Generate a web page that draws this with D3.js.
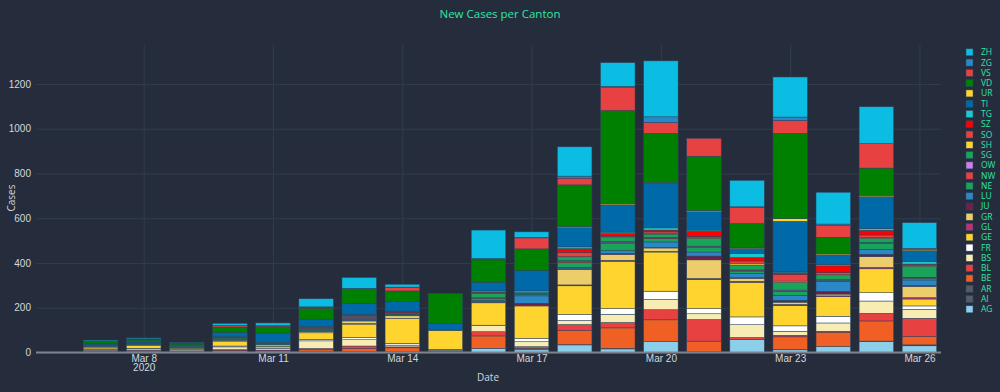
<!DOCTYPE html>
<html><head><meta charset="utf-8">
<script src="https://cdn.jsdelivr.net/npm/d3@7"></script>
<style>
html,body{margin:0;padding:0;background:#252d3d;}
svg{display:block;font-family:"Open Sans","DejaVu Sans",sans-serif;}
</style></head><body>
<svg id="chart" width="1000" height="392"></svg>
<script>
// ---- data (Mar 7 .. Mar 26, 2020) ----
const dates = ["2020-03-07","2020-03-08","2020-03-09","2020-03-10","2020-03-11","2020-03-12","2020-03-13","2020-03-14","2020-03-15","2020-03-16","2020-03-17","2020-03-18","2020-03-19","2020-03-20","2020-03-21","2020-03-22","2020-03-23","2020-03-24","2020-03-25","2020-03-26"];
// stacking order bottom -> top
const cantons = ["AG","AI","AR","BE","BL","BS","FR","GE","GL","GR","JU","LU","NE","NW","OW","SG","SH","SO","SZ","TG","TI","UR","VD","VS","ZG","ZH"];
const AG = [1,1,1,2,2,4,4,3,1,19,12,34,16,49,5,57,12,27,49,30];
const AI = [0,0,0,0,0,0,0,0,0,0,0,0,0,0,0,0,0,0,0,2];
const AR = [0,0,0,0,0,0,0,0,0,0,0,1,2,0,0,0,1,0,2,2];
const BE = [4,5,2,7,5,8,13,18,3,55,7,63,92,97,46,0,57,64,90,37];
const BL = [4,4,3,4,4,6,12,4,3,19,7,27,24,45,96,10,7,4,34,82];
const BS = [5,6,5,12,6,34,28,8,4,27,22,18,37,46,26,57,18,37,55,40];
const FR = [2,3,2,4,3,6,10,8,3,2,15,27,25,37,23,35,24,30,37,15];
const GE = [8,12,6,22,8,30,60,110,84,100,145,128,212,175,130,155,90,88,107,31];
const GL = [0,0,0,0,0,0,2,1,0,3,0,4,4,3,5,4,6,3,6,6];
const GR = [3,3,2,4,6,6,12,12,2,3,2,70,27,15,83,14,10,8,49,51];
const JU = [0,0,0,0,0,0,2,0,0,0,10,2,3,2,17,2,8,12,10,3];
const LU = [2,2,1,3,2,4,4,4,0,4,33,6,13,25,18,20,22,45,22,25];
const NE = [2,2,2,4,3,4,4,3,1,10,6,21,34,15,19,10,18,5,25,8];
const NW = [0,0,0,0,0,0,2,0,0,2,0,6,3,3,5,4,3,0,4,2];
const OW = [0,0,0,0,0,0,2,0,0,0,0,3,3,2,2,1,3,2,1,2];
const SG = [2,2,2,4,3,6,5,4,0,20,6,14,19,15,35,22,34,22,19,49];
const SH = [0,0,0,0,0,0,2,1,0,0,0,4,3,4,5,8,6,0,3,3];
const SO = [1,2,1,2,2,3,3,3,0,4,2,19,4,6,4,10,30,10,12,5];
const SZ = [0,1,0,1,1,2,2,3,0,2,0,17,10,8,22,15,8,30,21,2];
const TG = [1,1,2,3,2,3,2,3,0,5,8,8,7,10,6,19,5,6,8,12];
const TI = [6,8,5,18,40,33,49,42,30,39,91,86,122,200,82,22,224,42,142,48];
const UR = [0,0,0,0,0,0,0,0,0,0,0,4,6,3,5,3,12,5,6,6];
const VD = [8,7,8,24,28,49,64,48,133,100,97,187,415,219,243,108,381,75,122,0];
const VS = [1,1,1,6,4,4,3,15,0,3,49,30,105,49,80,72,58,52,109,4];
const ZG = [1,1,0,1,1,2,2,2,0,3,2,9,3,25,0,3,15,7,0,0];
const ZH = [4,4,2,9,12,36,48,13,0,127,25,131,106,250,0,118,179,142,165,115];
const seriesValues = {AG,AI,AR,BE,BL,BS,FR,GE,GL,GR,JU,LU,NE,NW,OW,SG,SH,SO,SZ,TG,TI,UR,VD,VS,ZG,ZH};
const colors = {ZH:"#0bbde3",ZG:"#2b88c8",VS:"#e84142",VD:"#008000",UR:"#ffd42f",TI:"#006aa8",TG:"#1ac9c9",SZ:"#ff0000",SO:"#e84142",SH:"#ffd42f",SG:"#19a45a",OW:"#c980e8",NW:"#e84142",NE:"#19a45a",LU:"#2b88c8",JU:"#6e1f4d",GR:"#edcd6b",GL:"#b73477",GE:"#ffd42f",FR:"#ffffff",BS:"#f8ecb5",BL:"#e84142",BE:"#f05f23",AR:"#555b67",AI:"#555b67",AG:"#8ccfeb"};
const yTicks = [0,200,400,600,800,1000,1200];
const xTickDates = ["2020-03-08","2020-03-11","2020-03-14","2020-03-17","2020-03-20","2020-03-23","2020-03-26"];

// ---- chart ----
const svg = d3.select("#chart");
const W = 1000, H = 392;
const mLeft = 36, mRight = 941, mTop = 45, mBottom = 352.5;
const parse = d3.utcParse("%Y-%m-%d");
const day = 864e5;
const x = d3.scaleUtc()
  .domain([new Date(parse("2020-03-05").getTime() + day/2), new Date(parse("2020-03-26").getTime() + day/2)])
  .range([mLeft, mRight]);
const y = d3.scaleLinear().domain([0, 1374]).range([mBottom, mTop]);
const dayW = x(parse("2020-03-09")) - x(parse("2020-03-08"));
const barW = dayW * 0.8;

svg.append("rect").attr("width", W).attr("height", H).attr("fill", "#252d3d");

// grid
const gridColor = "#333c4e";
const yAxis = d3.axisLeft(y).tickValues(yTicks).tickSize(-(mRight-mLeft)).tickPadding(4).tickFormat(d3.format("d"));
const gy = svg.append("g").attr("transform", `translate(${mLeft},0)`).call(yAxis);
gy.select(".domain").remove();
gy.selectAll(".tick line").attr("stroke", gridColor).attr("stroke-width", 1);
gy.selectAll(".tick text").attr("fill", "#d4d7dc").attr("font-size", 10).attr("dx", -1);

const xAxis = d3.axisBottom(x).tickValues(xTickDates.map(parse)).tickSize(-(mBottom-mTop)).tickPadding(2)
  .tickFormat(d => d3.utcFormat("%b %-d")(d));
const gx = svg.append("g").attr("transform", `translate(0,${mBottom})`).call(xAxis);
gx.select(".domain").remove();
gx.selectAll(".tick line").attr("stroke", gridColor).attr("stroke-width", 1);
gx.selectAll(".tick text").attr("fill", "#d4d7dc").attr("font-size", 10);
gx.selectAll(".tick").filter((d,i) => i === 0).append("text")
  .attr("fill", "#d4d7dc").attr("font-size", 10).attr("y", 11).attr("dy", "0.71em")
  .attr("text-anchor", "middle").text("2020");

// stacked bars
const table = dates.map((d, i) => {
  const row = {date: parse(d)};
  cantons.forEach(c => row[c] = seriesValues[c][i]);
  return row;
});
const stack = d3.stack().keys(cantons)(table);
const layers = svg.append("g");
stack.forEach(layer => {
  layers.append("g").attr("fill", colors[layer.key])
    .selectAll("rect").data(layer).join("rect")
    .attr("x", d => x(d.data.date) - barW/2)
    .attr("width", barW)
    .attr("y", d => y(d[1]))
    .attr("height", d => Math.max(0, y(d[0]) - y(d[1])))
    .attr("stroke", "#2e4560").attr("stroke-width", 0.5);
});

// zero line
svg.append("line").attr("x1", mLeft).attr("x2", mRight).attr("y1", y(0)).attr("y2", y(0))
  .attr("stroke", "#7e848e").attr("stroke-width", 2);

// titles
svg.append("text").attr("x", 500).attr("y", 18).attr("text-anchor", "middle")
  .attr("fill", "#2ee6a6").attr("font-size", 11.5).text("New Cases per Canton");
svg.append("text").attr("x", 488).attr("y", 381).attr("text-anchor", "middle")
  .attr("fill", "#d4d7dc").attr("font-size", 10).text("Date");
svg.append("text").attr("transform", "translate(15,198) rotate(-90)").attr("text-anchor", "middle")
  .attr("fill", "#d4d7dc").attr("font-size", 10).text("Cases");

// legend
const legendOrder = cantons.slice().reverse();
const lg = svg.append("g");
legendOrder.forEach((c, i) => {
  const ly = 52.3 + i * 10.28;
  lg.append("rect").attr("x", 966).attr("y", ly - 3.5).attr("width", 7).attr("height", 7)
    .attr("fill", colors[c]).attr("stroke", "#2e4560").attr("stroke-width", 0.5);
  lg.append("text").attr("x", 981).attr("y", ly).attr("dy", "0.35em")
    .attr("fill", "#2ee6a6").attr("font-size", 8.5).text(c);
});
</script>
</body></html>
